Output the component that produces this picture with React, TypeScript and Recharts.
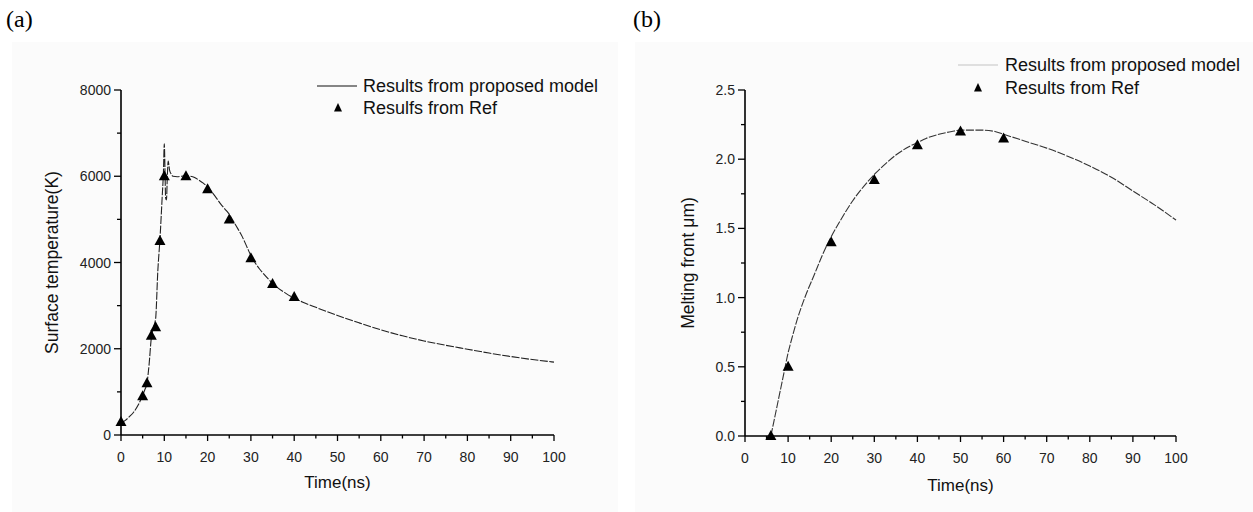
import React from 'react';
import { ComposedChart, Line, Scatter, XAxis, YAxis } from 'recharts';

// ---------- data ----------
const curveTimeA = [0, 1, 2, 3, 4, 5, 5.5, 6, 6.5, 7, 7.5, 8, 8.5, 9, 9.5, 9.8, 10, 10.15, 10.3, 10.5, 10.7, 10.9, 11.2, 11.6, 12, 13, 14, 15, 16, 17, 18, 19, 20, 21, 22, 23, 24, 25, 26, 27, 28, 29, 30, 31, 32, 33, 34, 35, 36, 38, 40, 42, 45, 50, 55, 60, 65, 70, 75, 80, 85, 90, 95, 100];
const curveTempA = [280, 340, 430, 540, 700, 920, 1050, 1200, 1650, 2250, 2500, 2700, 3800, 4550, 5500, 6100, 6750, 6200, 5500, 5450, 6000, 6350, 6150, 6050, 6000, 5990, 6000, 6010, 6000, 5970, 5910, 5840, 5750, 5630, 5500, 5360, 5240, 5120, 4950, 4780, 4600, 4380, 4160, 3990, 3850, 3730, 3620, 3520, 3430, 3290, 3170, 3080, 2960, 2770, 2600, 2440, 2300, 2180, 2080, 1990, 1900, 1820, 1750, 1690];
const refTimeA = [0, 5, 6, 7, 8, 9, 10, 15, 20, 25, 30, 35, 40];
const refTempA = [300, 900, 1200, 2300, 2500, 4500, 6000, 6000, 5700, 5000, 4100, 3500, 3200];

const curveTimeB = [6, 7, 8, 9, 10, 11, 12, 14, 16, 18, 20, 22, 25, 28, 30, 32, 35, 38, 40, 42, 45, 48, 50, 52, 55, 58, 60, 65, 70, 75, 80, 85, 90, 95, 100];
const curveDepthB = [0, 0.15, 0.3, 0.45, 0.6, 0.72, 0.83, 1.01, 1.16, 1.31, 1.44, 1.55, 1.7, 1.82, 1.89, 1.95, 2.03, 2.09, 2.12, 2.15, 2.18, 2.2, 2.21, 2.21, 2.21, 2.2, 2.18, 2.13, 2.08, 2.02, 1.95, 1.87, 1.77, 1.67, 1.56];
const refTimeB = [6, 10, 20, 30, 40, 50, 60];
const refDepthB = [0, 0.5, 1.4, 1.85, 2.1, 2.2, 2.15];

const xTicks = [0, 5, 10, 15, 20, 25, 30, 35, 40, 45, 50, 55, 60, 65, 70, 75, 80, 85, 90, 95, 100];
const yTicksA = [0, 1000, 2000, 3000, 4000, 5000, 6000, 7000, 8000];
const yTicksB = [0, 0.25, 0.5, 0.75, 1, 1.25, 1.5, 1.75, 2, 2.25, 2.5];

const xTitle = 'Time(ns)';
const yTitleA = 'Surface temperature(K)';
const yTitleB = 'Melting front \u03bcm)';
const legendA = ['Results from proposed model', 'Resulfs from Ref'];
const legendB = ['Results from proposed model', 'Results from Ref'];

const curveA = curveTimeA.map((t, i) => ({ t, v: curveTempA[i] }));
const refA = refTimeA.map((t, i) => ({ t, v: refTempA[i] }));
const curveB = curveTimeB.map((t, i) => ({ t, v: curveDepthB[i] }));
const refB = refTimeB.map((t, i) => ({ t, v: refDepthB[i] }));

const FONT = '"Liberation Sans", Arial, sans-serif';

// ---------- custom pieces ----------
const Tri = (props: any) => {
  const { cx, cy } = props;
  if (cx == null || cy == null) return null;
  return <polygon points={`${cx},${cy - 6} ${cx - 5.5},${cy + 4} ${cx + 5.5},${cy + 4}`} fill="#000" />;
};

const makeYTick = (isMajor: (v: number) => boolean, fmt: (v: number) => string) => (p: any) => {
  const { x, y, payload } = p;
  const v = payload.value;
  const major = isMajor(v);
  return (
    <g>
      <line x1={x} x2={x - (major ? 7 : 4)} y1={y} y2={y} stroke="#000" strokeWidth={1.3} />
      {major && (
        <text x={x - 10} y={y} dy="0.36em" textAnchor="end" fontSize={14} fill="#222" fontFamily={FONT}>
          {fmt(v)}
        </text>
      )}
    </g>
  );
};

const XTick = (p: any) => {
  const { x, y, payload } = p;
  const v = payload.value;
  const major = v % 10 === 0;
  return (
    <g>
      <line x1={x} x2={x} y1={y} y2={y + (major ? 6 : 3.5)} stroke="#000" strokeWidth={1.3} />
      {major && (
        <text x={x} y={y + 22} dy="0.36em" textAnchor="middle" fontSize={14} fill="#222" fontFamily={FONT}>
          {v}
        </text>
      )}
    </g>
  );
};

const yTickA = makeYTick((v) => v % 2000 === 0, (v) => String(v));
const yTickB = makeYTick((v) => Math.abs(v * 2 - Math.round(v * 2)) < 1e-6, (v) => v.toFixed(1));

export default function App() {
  return (
    <div style={{ position: 'absolute', left: 0, top: 0, width: 1253, height: 512, background: '#fff', overflow: 'hidden' }}>
      <div style={{ position: 'absolute', left: 12, top: 42, width: 606, height: 470, background: '#fbfbfb' }} />
      <div style={{ position: 'absolute', left: 635, top: 42, width: 618, height: 470, background: '#fbfbfb' }} />

      {/* Panel (a) */}
      <div style={{ position: 'absolute', left: 0, top: 0 }}>
        <ComposedChart width={620} height={512} margin={{ top: 90, right: 66, bottom: 47, left: 61 }}>
          <XAxis
            dataKey="t"
            type="number"
            domain={[0, 100]}
            ticks={xTicks}
            interval={0}
            height={30}
            tickSize={0}
            tickMargin={0}
            tickLine={false}
            axisLine={{ stroke: '#000', strokeWidth: 1.6 }}
            tick={XTick}
            label={{ value: xTitle, position: 'bottom', offset: 11, fontSize: 17, fill: '#111', fontFamily: FONT }}
          />
          <YAxis
            dataKey="v"
            type="number"
            domain={[0, 8000]}
            ticks={yTicksA}
            interval={0}
            width={60}
            tickSize={0}
            tickMargin={0}
            tickLine={false}
            axisLine={{ stroke: '#000', strokeWidth: 1.6 }}
            tick={yTickA}
            label={{ value: yTitleA, angle: -90, position: 'insideLeft', offset: -9, fontSize: 17.5, fill: '#111', fontFamily: FONT, style: { textAnchor: 'middle' } }}
          />
          <Line data={curveA} dataKey="v" type="monotone" stroke="#222" strokeWidth={1.1} strokeDasharray="8 1.5" dot={false} isAnimationActive={false} />
          <Scatter data={refA} dataKey="v" shape={Tri} isAnimationActive={false} />
        </ComposedChart>
      </div>

      {/* Panel (b) */}
      <div style={{ position: 'absolute', left: 625, top: 0 }}>
        <ComposedChart width={620} height={512} margin={{ top: 90, right: 69, bottom: 46, left: 60 }}>
          <XAxis
            dataKey="t"
            type="number"
            domain={[0, 100]}
            ticks={xTicks}
            interval={0}
            height={30}
            tickSize={0}
            tickMargin={0}
            tickLine={false}
            axisLine={{ stroke: '#000', strokeWidth: 1.6 }}
            tick={XTick}
            label={{ value: xTitle, position: 'bottom', offset: 13, fontSize: 17, fill: '#111', fontFamily: FONT }}
          />
          <YAxis
            dataKey="v"
            type="number"
            domain={[0, 2.5]}
            ticks={yTicksB}
            interval={0}
            width={60}
            tickSize={0}
            tickMargin={0}
            tickLine={false}
            axisLine={{ stroke: '#000', strokeWidth: 1.6 }}
            tick={yTickB}
            label={{ value: yTitleB, angle: -90, position: 'insideLeft', offset: 3, fontSize: 17.5, fill: '#111', fontFamily: FONT, style: { textAnchor: 'middle' } }}
          />
          <Line data={curveB} dataKey="v" type="monotone" stroke="#333" strokeWidth={1.1} strokeDasharray="8 1.5" dot={false} isAnimationActive={false} />
          <Scatter data={refB} dataKey="v" shape={Tri} isAnimationActive={false} />
        </ComposedChart>
      </div>

      {/* Panel labels and legends */}
      <svg width={1253} height={512} style={{ position: 'absolute', left: 0, top: 0, pointerEvents: 'none' }}>
        <text x={6} y={27} fontSize={24} fontFamily='"Liberation Serif", "Times New Roman", serif' fill="#000">(a)</text>
        <text x={633} y={27} fontSize={24} fontFamily='"Liberation Serif", "Times New Roman", serif' fill="#000">(b)</text>

        <line x1={317} x2={357} y1={86} y2={86} stroke="#111" strokeWidth={1.2} />
        <text x={363} y={86} dy="0.36em" fontSize={18} fontFamily={FONT} fill="#111">{legendA[0]}</text>
        <polygon points="338,103 334,111.5 342,111.5" fill="#000" />
        <text x={363} y={108} dy="0.36em" fontSize={18} fontFamily={FONT} fill="#111">{legendA[1]}</text>

        <line x1={958} x2={998} y1={65} y2={65} stroke="#c4c4c4" strokeWidth={1.2} />
        <text x={1005} y={65} dy="0.36em" fontSize={18} fontFamily={FONT} fill="#111">{legendB[0]}</text>
        <polygon points="978,83 974,91.5 982,91.5" fill="#000" />
        <text x={1005} y={88} dy="0.36em" fontSize={18} fontFamily={FONT} fill="#111">{legendB[1]}</text>
      </svg>
    </div>
  );
}
